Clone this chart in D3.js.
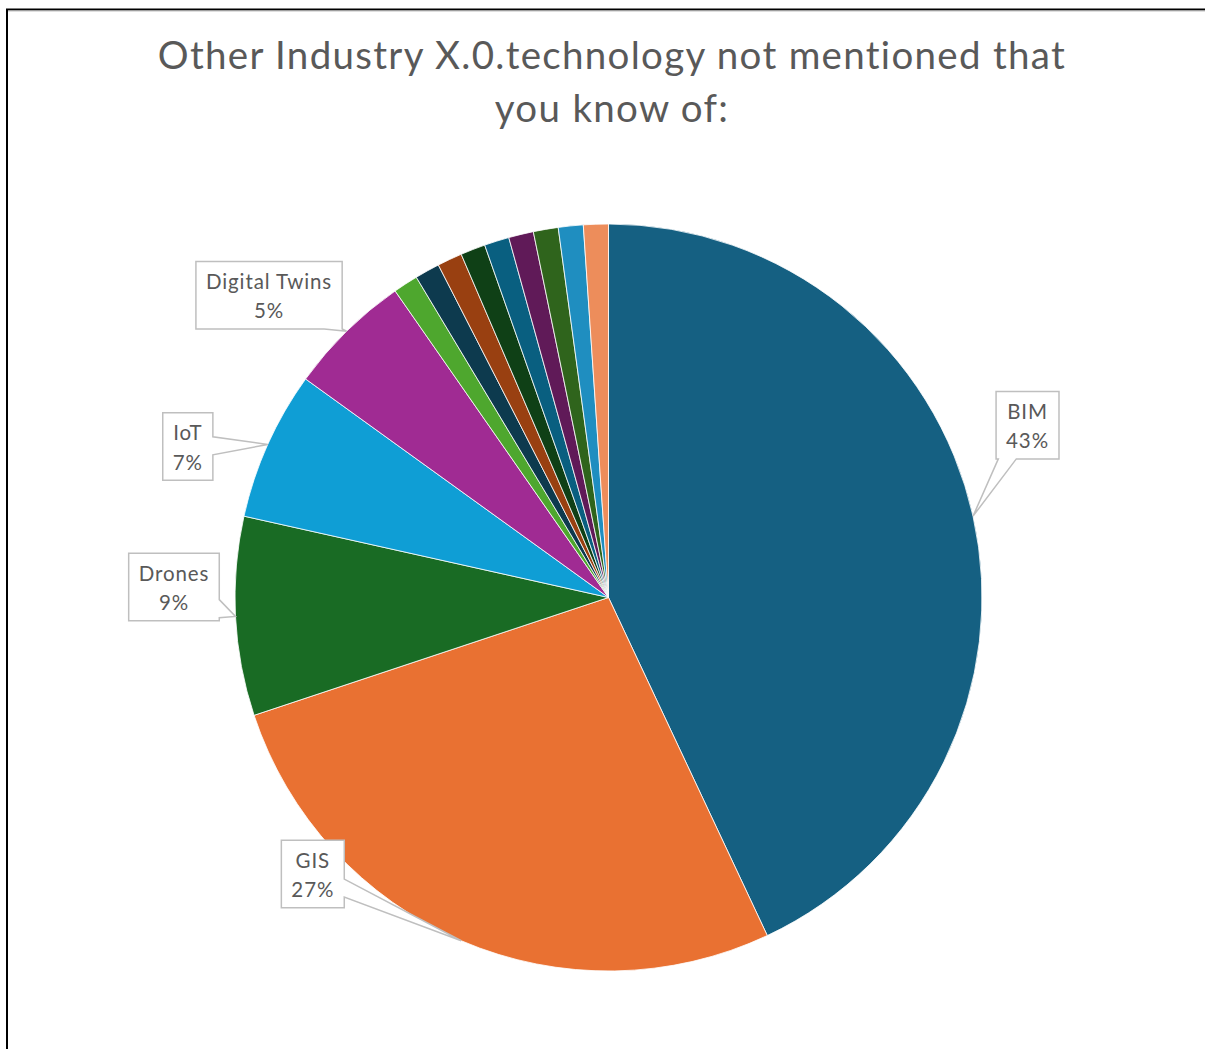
<!DOCTYPE html>
<html>
<head>
<meta charset="utf-8">
<script src="https://cdn.jsdelivr.net/npm/d3@7"></script>
<style>
  html, body { margin: 0; padding: 0; background: #ffffff; overflow: hidden; }
  svg { display: block; }
  text { font-variant-ligatures: none; }
</style>
</head>
<body>
<svg id="chart" width="1205" height="1049"></svg>
<script>
// Survey answers: number of respondents naming each technology
const categories = ["BIM", "GIS", "Drones", "IoT", "Digital Twins",
  "Other 1", "Other 2", "Other 3", "Other 4", "Other 5", "Other 6", "Other 7", "Other 8", "Other 9"];
const responses = [40, 25, 8, 6, 5, 1, 1, 1, 1, 1, 1, 1, 1, 1];
const titleLines = ["Other Industry X.0.technology not mentioned that", "you know of:"];

// Slice colours (theme accents, then darker and lighter variants)
const palette = ["#156082", "#E97132", "#196B24", "#0F9ED5", "#A02B93", "#4EA72E",
  "#0D3A4E", "#994011", "#0F4016", "#095F80", "#601A58", "#2F641C", "#1F8EC0", "#ED8D5B"];

// Callout placement: box centre relative to the slice's anchor on the rim
const calloutOffsets = {
  "BIM": [54.5, -91],
  "GIS": [-148.4, -66.8],
  "Drones": [-61.5, -29.5],
  "IoT": [-80, 2],
  "Digital Twins": [-77.6, -36]
};

const W = 1205, H = 1049;
const cx = 608.5, cy = 597.5, R = 373.5;
const textColor = "#595959";
const fontFamily = "Lato, 'Open Sans', sans-serif";

const svg = d3.select("#chart");

// Frame
svg.append("rect")
  .attr("x", 7).attr("y", 9.5)
  .attr("width", W + 20).attr("height", H + 20)
  .attr("fill", "none").attr("stroke", "#000").attr("stroke-width", 2);
svg.append("line")
  .attr("x1", 8).attr("x2", W).attr("y1", 11).attr("y2", 11)
  .attr("stroke", "#bfbfbf").attr("stroke-width", 1);

// Title
const title = svg.append("text")
  .attr("fill", textColor)
  .attr("font-family", fontFamily)
  .attr("font-size", 38.5)
  .attr("letter-spacing", 1.3)
  .attr("text-anchor", "middle");
titleLines.forEach((line, i) => {
  title.append("tspan").attr("x", 612).attr("y", 68.5 + i * 53).text(line);
});

// Percent shares rounded so that they total 100 (largest remainder)
const total = d3.sum(responses);
const raw = responses.map(v => v / total * 100);
const rounded = raw.map(Math.floor);
const missing = 100 - d3.sum(rounded);
d3.range(raw.length)
  .sort((a, b) => (raw[b] - rounded[b]) - (raw[a] - rounded[a]))
  .slice(0, missing)
  .forEach(i => { rounded[i] += 1; });

const data = categories.map((c, i) => ({ name: c, value: responses[i], pct: rounded[i], color: palette[i] }));

const pie = d3.pie().value(d => d.value).sort(null);
const arcs = pie(data);
const arc = d3.arc().innerRadius(0).outerRadius(R);

const g = svg.append("g").attr("transform", `translate(${cx},${cy})`);
g.selectAll("path.slice")
  .data(arcs)
  .join("path")
  .attr("class", "slice")
  .attr("d", arc)
  .attr("fill", d => d.data.color)
  .attr("stroke", "#ffffff")
  .attr("stroke-width", 0.8)
  .attr("stroke-linejoin", "round");

// Callout shape: box with a pointer running to the anchor point
function calloutPath(x0, y0, w, h, ax, ay) {
  const bx = x0 + w / 2, by = y0 + h / 2;
  const dx = ax - bx, dy = ay - by;
  const tx = dx !== 0 ? (w / 2) / Math.abs(dx) : Infinity;
  const ty = dy !== 0 ? (h / 2) / Math.abs(dy) : Infinity;
  const bw = 18;
  const clamp = (v, lo, hi) => Math.max(lo, Math.min(hi, v));
  let pts;
  if (tx < ty) {
    const yi = clamp(by + dy * tx, y0 + bw / 2, y0 + h - bw / 2);
    if (dx > 0) {
      const xe = x0 + w;
      pts = [[x0, y0], [xe, y0], [xe, yi - bw / 2], [ax, ay], [xe, yi + bw / 2], [xe, y0 + h], [x0, y0 + h]];
    } else {
      pts = [[x0, y0], [x0 + w, y0], [x0 + w, y0 + h], [x0, y0 + h], [x0, yi + bw / 2], [ax, ay], [x0, yi - bw / 2]];
    }
  } else {
    const xi = clamp(bx + dx * ty, x0 + bw / 2, x0 + w - bw / 2);
    if (dy > 0) {
      const ye = y0 + h;
      pts = [[x0, y0], [x0 + w, y0], [x0 + w, ye], [xi + bw / 2, ye], [ax, ay], [xi - bw / 2, ye], [x0, ye]];
    } else {
      pts = [[x0, y0], [xi - bw / 2, y0], [ax, ay], [xi + bw / 2, y0], [x0 + w, y0], [x0 + w, y0 + h], [x0, y0 + h]];
    }
  }
  return "M" + pts.map(p => p.join(",")).join("L") + "Z";
}

// Data labels
const labelled = arcs.filter(d => calloutOffsets[d.data.name]);
const labelG = svg.append("g");
labelled.forEach(d => {
  const mid = (d.startAngle + d.endAngle) / 2;
  const ax = cx + R * Math.sin(mid);
  const ay = cy - R * Math.cos(mid);
  const off = calloutOffsets[d.data.name];
  const lines = [d.data.name, d.data.pct + "%"];

  const grp = labelG.append("g");
  const path = grp.append("path")
    .attr("fill", "#ffffff")
    .attr("stroke", "#bfbfbf")
    .attr("stroke-width", 1.5);
  const txt = grp.append("text")
    .attr("fill", textColor)
    .attr("font-family", fontFamily)
    .attr("font-size", 20.5)
    .attr("letter-spacing", 0.9)
    .attr("text-anchor", "middle");
  const spans = lines.map(l => txt.append("tspan").text(l));
  const tw = d3.max(spans, s => s.node().getComputedTextLength());
  const bw = tw + 20, bh = 67.5;
  const bxc = ax + off[0], byc = ay + off[1];
  const x0 = bxc - bw / 2, y0 = byc - bh / 2;
  spans.forEach((s, i) => s.attr("x", bxc).attr("y", y0 + 27.5 + i * 29.5));
  path.attr("d", calloutPath(x0, y0, bw, bh, ax, ay));
});
</script>
</body>
</html>
